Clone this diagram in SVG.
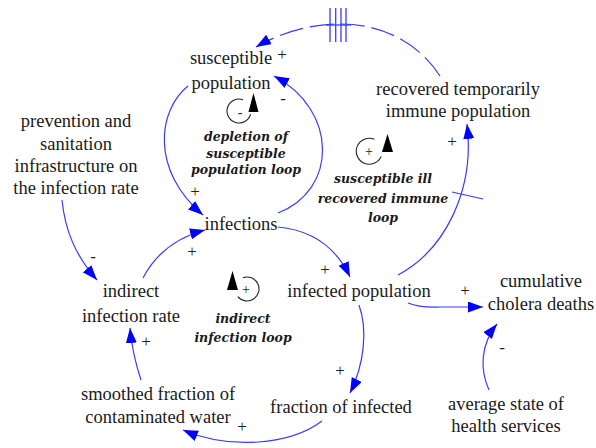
<svg xmlns="http://www.w3.org/2000/svg" width="596" height="448" viewBox="0 0 596 448">
<defs>
<style>
.t{font-family:"Liberation Serif","Times New Roman",serif;font-size:18.5px;fill:#1a1a1a;text-anchor:middle}
.l{font-family:"DejaVu Serif","Liberation Serif",serif;font-size:12.5px;font-style:italic;font-weight:bold;fill:#1a1a1a;text-anchor:middle}
.p{font-family:"Liberation Serif","Times New Roman",serif;font-size:17px;fill:#222;text-anchor:middle}
.c{fill:none;stroke:#3a3aff;stroke-width:1.2}
.lp{fill:none;stroke:#222;stroke-width:1.1}
</style>
<marker id="ah" markerWidth="16" markerHeight="12" refX="15" refY="5.5" orient="auto" markerUnits="userSpaceOnUse">
<path d="M0,0 L15,5.5 L0,11 z" fill="#0000ff"/>
</marker>
</defs>
<rect width="596" height="448" fill="#ffffff"/>

<g id="connectors">
<path class="c" d="M440 76 C420 45 385 24 340 24 C310 24 280 33 256 47" stroke-dasharray="24 7" marker-end="url(#ah)"/>
<g stroke="#3a3aff" stroke-width="1.3">
<line x1="330" y1="8" x2="330" y2="42"/><line x1="335.7" y1="8" x2="335.7" y2="42"/>
<line x1="341" y1="8" x2="341" y2="42"/><line x1="346" y1="8" x2="346" y2="42"/>
<line x1="326" y1="25" x2="351" y2="25"/>
</g>
<path class="c" d="M188 86 C158 110 150 170 203 215" marker-end="url(#ah)"/>
<path class="c" d="M278 213 C338 190 338 110 274 76" marker-end="url(#ah)"/>
<path class="c" d="M278 227 C310 230 335 245 350 277" marker-end="url(#ah)"/>
<path class="c" d="M398 275 C445 250 475 190 467 124" marker-end="url(#ah)"/>
<line class="c" x1="452" y1="192" x2="483" y2="199"/>
<path class="c" d="M408 303 Q420 308 440 307 L483 307" marker-end="url(#ah)"/>
<path class="c" d="M489 390 C480 370 480 345 497 324" marker-end="url(#ah)"/>
<path class="c" d="M359 305 C368 330 364 365 350 393" marker-end="url(#ah)"/>
<path class="c" d="M322 421 C290 445 230 450 183 430" marker-end="url(#ah)"/>
<path class="c" d="M141 380 C136 365 132 350 130 328" marker-end="url(#ah)"/>
<path class="c" d="M143 278 C155 255 175 238 205 230" marker-end="url(#ah)"/>
<path class="c" d="M62 200 C65 230 75 255 97 280" marker-end="url(#ah)"/>
</g>

<g id="polarities">
<text class="p" x="282" y="60">+</text>
<text class="p" x="283" y="104">-</text>
<text class="p" x="195" y="197">+</text>
<text class="p" x="192" y="257">+</text>
<text class="p" x="325" y="275">+</text>
<text class="p" x="452" y="147">+</text>
<text class="p" x="465" y="296">+</text>
<text class="p" x="502" y="353">-</text>
<text class="p" x="340" y="376">+</text>
<text class="p" x="242" y="432">+</text>
<text class="p" x="146" y="347">+</text>
<text class="p" x="93" y="262">-</text>
</g>

<g id="loop-depletion">
<path class="lp" d="M250.6 114.1 A12 12 0 1 1 243.1 99.7"/>
<polygon points="253.5,93 258.5,112 248.5,112" fill="#000"/>
<text class="p" x="240" y="117" style="font-size:14px">-</text>
<text class="l" x="246" y="141">depletion of</text>
<text class="l" x="246" y="158">susceptible</text>
<text class="l" x="246" y="174">population loop</text>
</g>

<g id="loop-recovered">
<path class="lp" d="M381.2 156.4 A13 13 0 1 1 374.4 139.3"/>
<polygon points="387.5,134 393,152 382,152" fill="#000"/>
<text class="p" x="369" y="156" style="font-size:14px">+</text>
<text class="l" x="383" y="183">susceptible ill</text>
<text class="l" x="383" y="203">recovered immune</text>
<text class="l" x="383" y="222">loop</text>
</g>

<g id="loop-indirect">
<path class="lp" d="M242.9 277.7 A12 12 0 1 1 237.8 296.7"/>
<polygon points="232.5,271 238,290 227,290" fill="#000"/>
<text class="p" x="246" y="294" style="font-size:14px">+</text>
<text class="l" x="243" y="323">indirect</text>
<text class="l" x="243" y="342">infection loop</text>
</g>

<g id="susceptible-population">
<text class="t" x="231" y="64">susceptible</text>
<text class="t" x="231" y="89">population</text>
</g>
<g id="recovered-temporarily-immune-population">
<text class="t" x="458" y="95">recovered temporarily</text>
<text class="t" x="458" y="117">immune population</text>
</g>
<g id="prevention-and-sanitation">
<text class="t" x="76" y="127">prevention and</text>
<text class="t" x="76" y="150">sanitation</text>
<text class="t" x="76" y="172">infrastructure on</text>
<text class="t" x="76" y="194">the infection rate</text>
</g>
<g id="infections">
<text class="t" x="241" y="230">infections</text>
</g>
<g id="infected-population">
<text class="t" x="359" y="297">infected population</text>
</g>
<g id="cumulative-cholera-deaths">
<text class="t" x="541" y="287">cumulative</text>
<text class="t" x="541" y="310">cholera deaths</text>
</g>
<g id="indirect-infection-rate">
<text class="t" x="131" y="297">indirect</text>
<text class="t" x="131" y="322">infection rate</text>
</g>
<g id="smoothed-fraction-of-contaminated-water">
<text class="t" x="158" y="400">smoothed fraction of</text>
<text class="t" x="158" y="423">contaminated water</text>
</g>
<g id="fraction-of-infected">
<text class="t" x="341" y="413">fraction of infected</text>
</g>
<g id="average-state-of-health-services">
<text class="t" x="506" y="410">average state of</text>
<text class="t" x="506" y="432">health services</text>
</g>
</svg>
